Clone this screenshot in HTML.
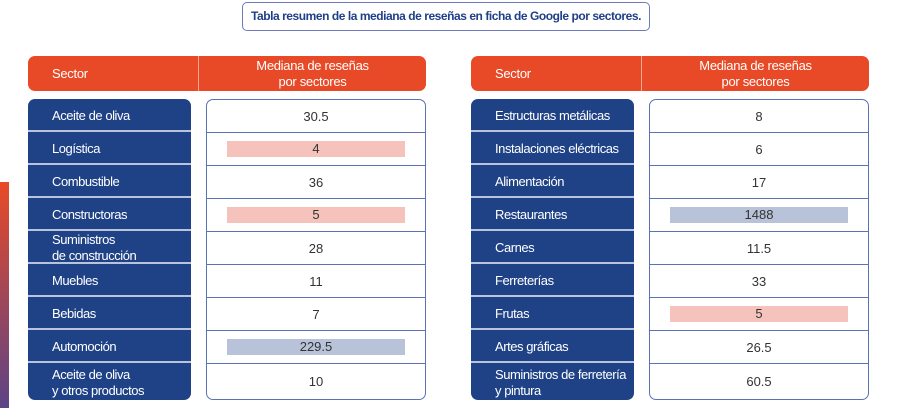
<!DOCTYPE html>
<html><head><meta charset="utf-8"><style>
*{margin:0;padding:0;box-sizing:border-box}
body{width:900px;height:408px;background:#fff;position:relative;overflow:hidden;font-family:"Liberation Sans",sans-serif;}
.a{position:absolute}
.title{left:242px;top:2px;width:408px;height:29px;border:1px solid #6c7bbf;border-radius:5px;color:#1f3f86;font-weight:bold;font-size:12px;letter-spacing:-0.45px;white-space:nowrap;text-align:center;line-height:27px}
.hdr{top:56px;height:35px;background:#e84a27;border-radius:7px;color:#fff;font-size:13px;letter-spacing:-0.3px}
.hdr .s{position:absolute;left:0;top:0;width:171px;height:35px;line-height:35px;padding-left:24px;border-right:1.5px solid #f5a990}
.hdr .m{position:absolute;left:171px;right:0;top:2px;text-align:center;line-height:15.5px}
.blue{top:99px;width:163px;height:301px;background:#1f4287;border-radius:7px;overflow:hidden}
.blue div{height:33px;border-bottom:2px solid #b9c4dc;color:#fff;font-size:13px;letter-spacing:-0.45px;white-space:nowrap;padding-left:24px;padding-top:2px;display:flex;align-items:center;line-height:16px}
.blue div:last-child{height:37px;border-bottom:none}
.val{top:99px;width:220px;height:301px;border:1px solid #5a73b4;border-radius:7px;overflow:hidden}
.val div{height:33px;border-bottom:1px solid #5a73b4;color:#333;font-size:13px;display:flex;align-items:center;justify-content:center}
.val div:last-child{height:35px;border-bottom:none}
.val span{display:block;width:178px;height:16px;line-height:16px;text-align:center}
.r{background:#f5c3bb}.b{background:#b8c3da}
</style></head><body>
<div class="a" style="left:0;top:182px;width:9px;height:226px;background:linear-gradient(#e84a27,#5b4487)"></div>
<div class="a title">Tabla resumen de la mediana de reseñas en ficha de Google por sectores.</div>

<div class="a hdr" style="left:28px;width:398px"><div class="s">Sector</div><div class="m">Mediana de reseñas<br>por sectores</div></div>
<div class="a hdr" style="left:471px;width:398px"><div class="s">Sector</div><div class="m">Mediana de reseñas<br>por sectores</div></div>

<div class="a blue" style="left:28px">
<div>Aceite de oliva</div><div>Logística</div><div>Combustible</div><div>Constructoras</div><div>Suministros<br>de construcción</div><div>Muebles</div><div>Bebidas</div><div>Automoción</div><div>Aceite de oliva<br>y otros productos</div>
</div>
<div class="a val" style="left:206px">
<div>30.5</div><div><span class="r">4</span></div><div>36</div><div><span class="r">5</span></div><div>28</div><div>11</div><div>7</div><div><span class="b">229.5</span></div><div>10</div>
</div>

<div class="a blue" style="left:471px">
<div>Estructuras metálicas</div><div>Instalaciones eléctricas</div><div>Alimentación</div><div>Restaurantes</div><div>Carnes</div><div>Ferreterías</div><div>Frutas</div><div>Artes gráficas</div><div>Suministros de ferretería<br>y pintura</div>
</div>
<div class="a val" style="left:649px">
<div>8</div><div>6</div><div>17</div><div><span class="b">1488</span></div><div>11.5</div><div>33</div><div><span class="r">5</span></div><div>26.5</div><div>60.5</div>
</div>
</body></html>
